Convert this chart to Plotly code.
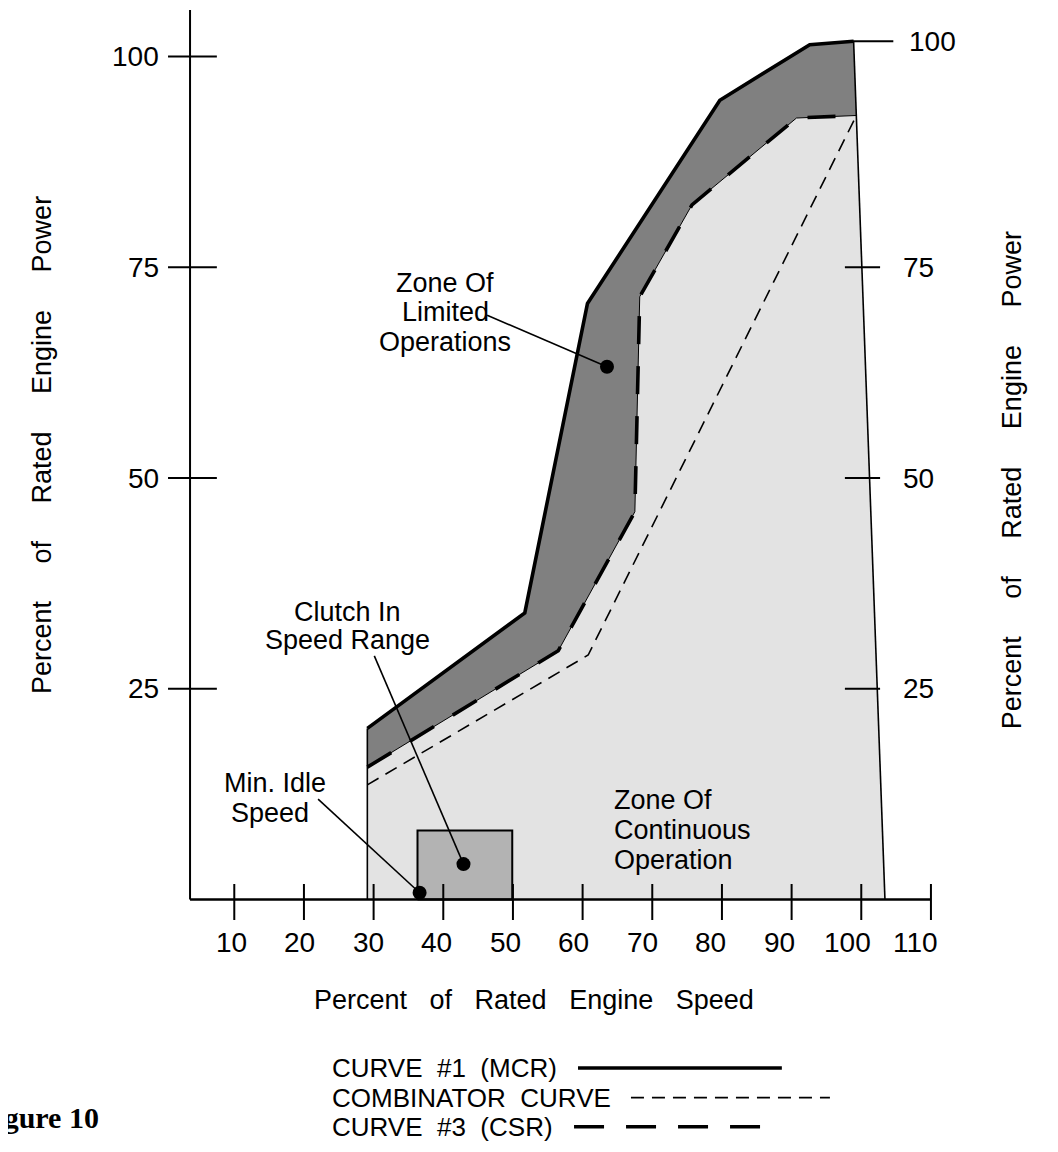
import plotly.graph_objects as go

# ---------------- data (percent of rated engine speed / power) ----------------
mcr_speed = [29.1, 51.7, 60.7, 79.7, 92.6, 98.9]
mcr_power = [20.3, 34.0, 70.7, 94.8, 101.4, 101.8]

csr_speed = [29.1, 56.5, 67.5, 68.2, 75.7, 90.7, 99.3]
csr_power = [15.7, 29.5, 46.0, 71.5, 82.4, 92.7, 93.0]

comb_speed = [29.1, 60.8, 99.3]
comb_power = [13.6, 29.0, 93.0]

right_edge_speed = [98.9, 103.4]
right_edge_power = [101.8, 0.0]

clutch_speed = [36.3, 49.9]
clutch_power = [0.0, 8.2]

idle_pt = [36.6, 0.8]
clutch_pt = [42.9, 4.2]
limited_pt = [63.5, 63.2]

x_ticks = [10, 20, 30, 40, 50, 60, 70, 80, 90, 100, 110]
y_ticks = [25, 50, 75, 100]
right_tick_vals = [25, 50, 75, 101.8]
right_tick_text = ["25", "50", "75", "100"]

FONT = "Liberation Sans, Arial, sans-serif"
NB = "\u00a0"

fig = go.Figure()

def line(x, y, width=1.5, dash=None, color="black"):
    fig.add_trace(go.Scatter(x=x, y=y, mode="lines", hoverinfo="skip",
                             line=dict(color=color, width=width, dash=dash)))

# zone of continuous operation (light)
zx = [csr_speed[0]] + csr_speed + [right_edge_speed[1], csr_speed[0]]
zy = [0] + csr_power + [0, 0]
fig.add_trace(go.Scatter(x=zx, y=zy, fill="toself", fillcolor="#e3e3e3",
                         mode="lines", line=dict(width=0), hoverinfo="skip"))
# zone of limited operations (dark)
dx = mcr_speed + [csr_speed[-1]] + csr_speed[::-1]
dy = mcr_power + [csr_power[-1]] + csr_power[::-1]
fig.add_trace(go.Scatter(x=dx, y=dy, fill="toself", fillcolor="#808080",
                         mode="lines", line=dict(width=0), hoverinfo="skip"))
# clutch-in speed range box
bx = [clutch_speed[0], clutch_speed[0], clutch_speed[1], clutch_speed[1], clutch_speed[0]]
by = [clutch_power[0], clutch_power[1], clutch_power[1], clutch_power[0], clutch_power[0]]
fig.add_trace(go.Scatter(x=bx, y=by, fill="toself", fillcolor="#b3b3b3",
                         mode="lines", line=dict(color="black", width=2), hoverinfo="skip"))

# outlines
line([mcr_speed[0], mcr_speed[0]], [0, mcr_power[0]], 1.6)
line(right_edge_speed, right_edge_power, 1.6)
line(csr_speed, csr_power, 1.0)
# curves
line(comb_speed, comb_power, 1.6, "13px,8px")
line(csr_speed, csr_power, 3.6, "28px,22px")
line(mcr_speed, mcr_power, 3.6)

# axes
line([3.65, 3.65], [0, 105.5], 2)
line([3.65, 110], [0, 0], 2.5)
tx, ty = [], []
for t in x_ticks:
    tx += [t, t, None]
    ty += [1.84, -2.43, None]
line(tx, ty, 2)
tx, ty = [], []
for t in y_ticks:
    tx += [0.49, 7.5, None]
    ty += [t, t, None]
line(tx, ty, 2)
tx, ty = [], []
for v, s in zip(right_tick_vals, right_tick_text):
    if s == "100":
        tx += [98.8, 104.6, None]
    else:
        tx += [97.65, 102.7, None]
    ty += [v, v, None]
line(tx, ty, 2)

# leader lines
line([46.3, limited_pt[0]], [69.3, limited_pt[1]], 1.6)
line([30.1, clutch_pt[0]], [28.9, clutch_pt[1]], 1.6)
line([22.03, idle_pt[0]], [11.9, idle_pt[1]], 1.6)

# dots
fig.add_trace(go.Scatter(x=[idle_pt[0], clutch_pt[0], limited_pt[0]],
                         y=[idle_pt[1], clutch_pt[1], limited_pt[1]],
                         mode="markers", marker=dict(color="black", size=14),
                         hoverinfo="skip"))

# legend samples
line([59.34, 88.6], [-19.99, -19.99], 3.6)
line([66.94, 95.5], [-23.5, -23.5], 1.6, "13px,8px")
line([58.77, 86.9], [-26.96, -26.96], 3.6, "30px,22px")

ann = []
def text(x, y, s, size=27, xanchor="center", yanchor="middle", angle=0,
         family=FONT):
    ann.append(dict(x=x, y=y, text=s, showarrow=False, xanchor=xanchor,
                    yanchor=yanchor, textangle=angle,
                    font=dict(family=family, size=size, color="black")))

# tick labels
for t in x_ticks:
    off = (3 + 0.12 * (t - 10)) / 6.967
    text(t - off, -5.04, str(t), 28)
for t in y_ticks:
    text(-0.52, t, str(t), 28, xanchor="right")
for v, s in zip(right_tick_vals, right_tick_text):
    text(106.56 if s == "100" else 105.7, v, s, 28, xanchor="left")

# axis titles
sp = NB + NB + " "
text(53.0, -11.9, sp.join(["Percent", "of", "Rated", "Engine", "Speed"]), 27)
vsp = NB * 4 + " "
text(-17.6, 53.9, vsp.join(["Percent", "of", "Rated", "Engine", "Power"]), 27, angle=-90)
text(121.6, 49.7, vsp.join(["Percent", "of", "Rated", "Engine", "Power"]), 27, angle=-90)

# zone annotations
text(40.25, 73.1, "Zone Of", 27)
text(40.25, 69.7, "Limited", 27)
text(40.25, 66.1, "Operations", 27)
text(26.3, 34.1, "Clutch In", 27)
text(26.3, 30.8, "Speed Range", 27)
text(15.8, 13.8, "Min. Idle", 27)
text(15.1, 10.3, "Speed", 27)
text(64.2, 11.8, "Zone Of", 27, xanchor="left")
text(64.2, 8.24, "Continuous", 27, xanchor="left")
text(64.2, 4.7, "Operation", 27, xanchor="left")

# legend text
lsp = NB + " "
text(23.7, -19.99, "CURVE" + lsp + "#1" + lsp + "(MCR)", 26, xanchor="left")
text(23.7, -23.5, "COMBINATOR" + lsp + "CURVE", 26, xanchor="left")
text(23.7, -26.96, "CURVE" + lsp + "#3" + lsp + "(CSR)", 26, xanchor="left")

# figure caption (partly cut at the page edge)
text(-9.2, -25.9, "<b>Figure 10</b>", 30, xanchor="right",
     family="Liberation Serif, Times New Roman, serif")

fig.update_layout(
    width=1042, height=1136,
    margin=dict(l=0, r=0, t=0, b=0),
    paper_bgcolor="white", plot_bgcolor="white",
    showlegend=False,
    xaxis=dict(range=[-22.48, 127.09], visible=False, fixedrange=True),
    yaxis=dict(range=[-29.0, 105.75], visible=False, fixedrange=True),
    annotations=ann,
)
fig.write_html("out.html")
